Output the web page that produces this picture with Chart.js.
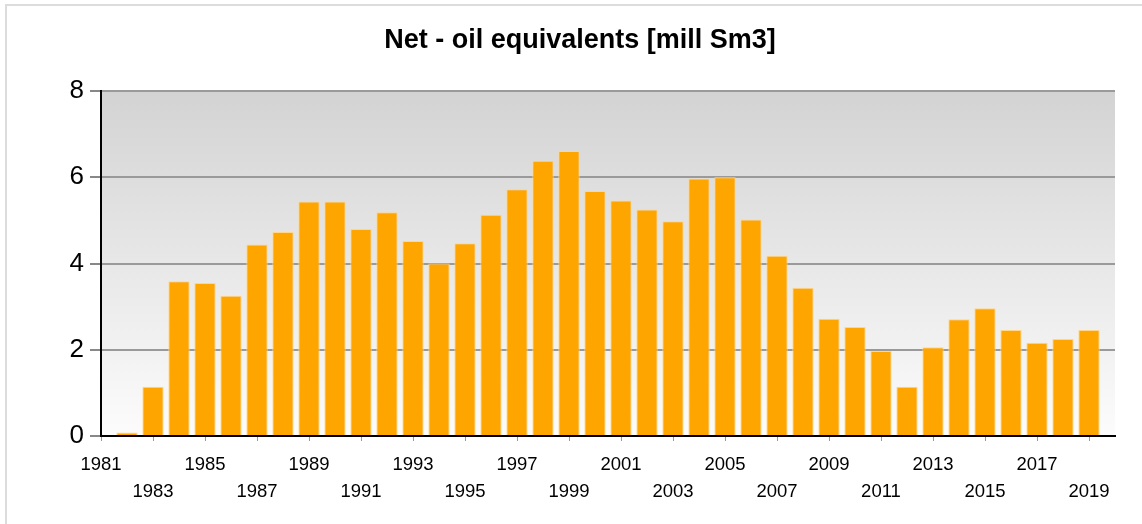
<!DOCTYPE html>
<html>
<head>
<meta charset="utf-8">
<script src="https://cdn.jsdelivr.net/npm/chart.js@4"></script>
<style>
  html, body { margin: 0; padding: 0; background: #fff; }
  #wrap { position: relative; width: 1142px; height: 524px; }
</style>
</head>
<body>
<div id="wrap"><canvas id="mycanvas" width="1142" height="524"></canvas></div>
<script>
// Net oil equivalents per year, mill Sm3
var years = [1982, 1983, 1984, 1985, 1986, 1987, 1988, 1989, 1990, 1991,
             1992, 1993, 1994, 1995, 1996, 1997, 1998, 1999, 2000, 2001,
             2002, 2003, 2004, 2005, 2006, 2007, 2008, 2009, 2010, 2011,
             2012, 2013, 2014, 2015, 2016, 2017, 2018, 2019];
var netOe = [0.08, 1.14, 3.59, 3.55, 3.25, 4.44, 4.73, 5.44, 5.44, 4.80,
             5.19, 4.52, 4.00, 4.47, 5.13, 5.72, 6.38, 6.61, 5.68, 5.46,
             5.25, 4.98, 5.97, 6.00, 5.02, 4.18, 3.44, 2.72, 2.53, 1.97,
             1.14, 2.06, 2.71, 2.96, 2.46, 2.16, 2.25, 2.46];
var tickYears = [1981, 1983, 1985, 1987, 1989, 1991, 1993, 1995, 1997, 1999,
                 2001, 2003, 2005, 2007, 2009, 2011, 2013, 2015, 2017, 2019];
var yTicks = [0, 2, 4, 6, 8];

// grey gradient behind the plot + light frame round the picture
var backdrop = {
  id: 'backdrop',
  beforeDraw: function(chart) {
    var ctx = chart.ctx, a = chart.chartArea;
    var g = ctx.createLinearGradient(0, a.top, 0, a.bottom);
    g.addColorStop(0, '#d3d3d3');
    g.addColorStop(1, '#fcfcfc');
    ctx.save();
    ctx.fillStyle = g;
    ctx.fillRect(a.left, a.top, a.right - a.left, a.bottom - a.top);
    ctx.strokeStyle = '#dcdcdc';
    ctx.lineWidth = 2;
    ctx.beginPath();
    ctx.moveTo(6, 524);
    ctx.lineTo(6, 5);
    ctx.lineTo(1142, 5);
    ctx.stroke();
    ctx.restore();
  }
};

var chartdata = {
  datasets: [{
    label: 'Net - oil equivalents',
    data: years.map(function(y, i) { return {x: y, y: netOe[i]}; }),
    backgroundColor: '#ffa500',
    borderColor: '#ffd68a',
    borderWidth: 1,
    barPercentage: 0.82,
    categoryPercentage: 1.0
  }]
};

new Chart(document.getElementById('mycanvas'), {
  type: 'bar',
  data: chartdata,
  plugins: [backdrop],
  options: {
    responsive: false,
    animation: false,
    layout: { padding: { left: 45, right: 27, top: 0, bottom: 0 } },
    plugins: {
      legend: { display: false },
      tooltip: { enabled: false },
      title: {
        display: true,
        text: 'Net - oil equivalents [mill Sm3]',
        color: '#000',
        font: { family: 'Liberation Sans, Arial, sans-serif', size: 27, weight: 'bold' },
        padding: { top: 24, bottom: 34.6 }
      }
    },
    scales: {
      x: {
        type: 'linear',
        min: 1981,
        max: 2020,
        offset: false,
        afterBuildTicks: function(axis) {
          axis.ticks = tickYears.map(function(v) { return {value: v}; });
        },
        afterFit: function(axis) { axis.height = 88; },
        grid: {
          offset: false,
          drawOnChartArea: false,
          drawTicks: true,
          tickLength: 5,
          tickColor: '#999'
        },
        border: { display: true, color: '#000', width: 2 },
        ticks: {
          autoSkip: false,
          maxRotation: 0,
          padding: 10,
          color: '#000',
          font: { family: 'Liberation Sans, Arial, sans-serif', size: 18.5, lineHeight: 1.46 },
          callback: function(value, index) {
            return index % 2 === 0 ? [String(value), ''] : ['', String(value)];
          }
        }
      },
      y: {
        min: 0,
        max: 8,
        afterBuildTicks: function(axis) {
          axis.ticks = yTicks.map(function(v) { return {value: v}; });
        },
        afterFit: function(axis) { axis.width = 56; },
        grid: {
          color: function(c) { return c.tick && c.tick.value === 0 ? 'rgba(0,0,0,0)' : '#9a9a9a'; },
          lineWidth: 2,
          tickLength: 11,
          tickColor: '#888'
        },
        border: { display: true, color: '#000', width: 2 },
        ticks: {
          padding: 6,
          color: '#000',
          font: { family: 'Liberation Sans, Arial, sans-serif', size: 26 }
        }
      }
    }
  }
});
</script>
</body>
</html>
